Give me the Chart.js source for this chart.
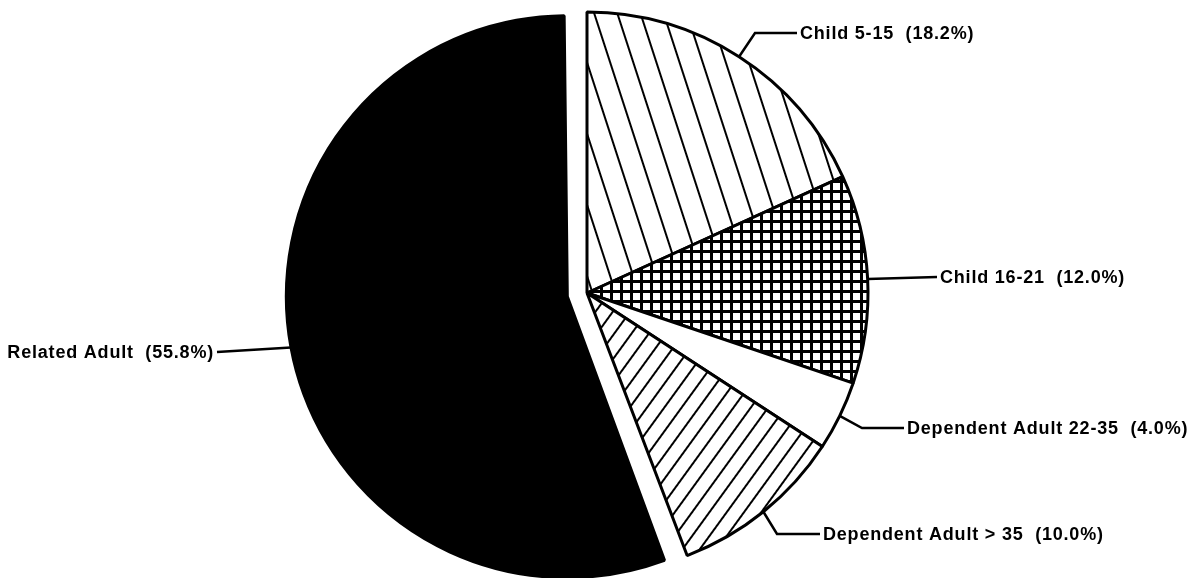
<!DOCTYPE html>
<html>
<head>
<meta charset="utf-8">
<script src="https://cdn.jsdelivr.net/npm/chart.js@4/dist/chart.umd.min.js"></script>
<style>
  html, body { margin: 0; padding: 0; background: #fff; }
  canvas { display: block; }
</style>
</head>
<body>
<canvas id="grafico" width="1202" height="578"></canvas>
<script>
// dados
const categorias = ['Child 5-15', 'Child 16-21', 'Dependent Adult 22-35', 'Dependent Adult > 35', 'Related Adult'];
const percentuais = [18.2, 12.0, 4.0, 10.0, 55.8];

// posição dos rótulos (layout, não dados)
const posRotulos = [
    { cotoveloX: 755, x: 800, y: 33, alinhar: 'left' },
    { cotoveloX: null, x: 940, y: 277, alinhar: 'left' },
    { cotoveloX: 862, x: 907, y: 428, alinhar: 'left' },
    { cotoveloX: 777, x: 823, y: 534, alinhar: 'left' },
    { cotoveloX: null, x: 214, y: 352, alinhar: 'right' }
];

function padraoLinhas(periodo, espessura, angulo) {
    let c = document.createElement('canvas');
    c.width = periodo; c.height = periodo;
    let g = c.getContext('2d');
    g.fillStyle = '#fff';
    g.fillRect(0, 0, periodo, periodo);
    g.fillStyle = '#000';
    g.fillRect((periodo - espessura) / 2, 0, espessura, periodo);
    let p = g.createPattern(c, 'repeat');
    p.setTransform(new DOMMatrix().rotateSelf(angulo));
    return p;
}

function padraoGrade(periodo, espessura) {
    let c = document.createElement('canvas');
    c.width = periodo; c.height = periodo;
    let g = c.getContext('2d');
    g.fillStyle = '#fff';
    g.fillRect(0, 0, periodo, periodo);
    g.fillStyle = '#000';
    g.fillRect(0, 0, espessura, periodo);
    g.fillRect(0, 0, periodo, espessura);
    return g.createPattern(c, 'repeat');
}

const ctx = document.getElementById('grafico').getContext('2d');

const preenchimentos = [
    padraoLinhas(22, 2, -18),
    padraoGrade(10, 3),
    '#fff',
    padraoLinhas(14, 2, 36),
    '#000'
];

// fatia destacada: o Chart.js aumenta o raio junto com o deslocamento, aqui desfaz isso
function correcaoRaio(arc) {
    const o = (arc.options.offset || 0) / 4;
    const fix = 1 - Math.sin(Math.min(Math.PI, arc.circumference || 0));
    return o * fix;
}

const raioPlugin = {
    id: 'raioFixo',
    afterDatasetsUpdate(chart) {
        const meta = chart.getDatasetMeta(0);
        const raio = meta.controller.outerRadius;
        meta.data.forEach(arc => {
            arc.outerRadius = raio - correcaoRaio(arc);
        });
    }
};

const rotulosPlugin = {
    id: 'rotulos',
    afterDatasetsDraw(chart) {
        const c = chart.ctx;
        const meta = chart.getDatasetMeta(0);
        c.save();
        c.strokeStyle = '#000';
        c.lineWidth = 2.5;
        c.fillStyle = '#000';
        c.font = 'bold 18px "Liberation Sans", Arial, sans-serif';
        c.letterSpacing = '0.8px';
        c.textBaseline = 'middle';
        meta.data.forEach((arc, i) => {
            const desloc = (arc.options.offset || 0) / 4;
            const r = arc.outerRadius + correcaoRaio(arc) + desloc;
            const meio = (arc.startAngle + arc.endAngle) / 2;
            const ax = arc.x + Math.cos(meio) * r;
            const ay = arc.y + Math.sin(meio) * r;
            const pos = posRotulos[i];
            c.beginPath();
            c.moveTo(ax, ay);
            if (pos.cotoveloX !== null) c.lineTo(pos.cotoveloX, pos.y);
            c.lineTo(pos.alinhar === 'left' ? pos.x - 3 : pos.x + 3, pos.y);
            c.stroke();
            c.textAlign = pos.alinhar;
            const texto = categorias[i] + '  (' + percentuais[i].toFixed(1) + '%)';
            c.fillText(texto, pos.x, pos.y + 1);
        });
        c.restore();
    }
};

new Chart(ctx, {
    type: 'pie',
    data: {
        labels: categorias,
        datasets: [{
            data: percentuais,
            backgroundColor: preenchimentos,
            borderColor: '#000',
            borderWidth: 3,
            offset: [0, 0, 0, 0, 80]
        }]
    },
    options: {
        responsive: false,
        animation: false,
        radius: 281,
        layout: { padding: { top: 8, right: 28 } },
        plugins: {
            legend: { display: false },
            tooltip: { enabled: false }
        }
    },
    plugins: [raioPlugin, rotulosPlugin]
});
</script>
</body>
</html>
